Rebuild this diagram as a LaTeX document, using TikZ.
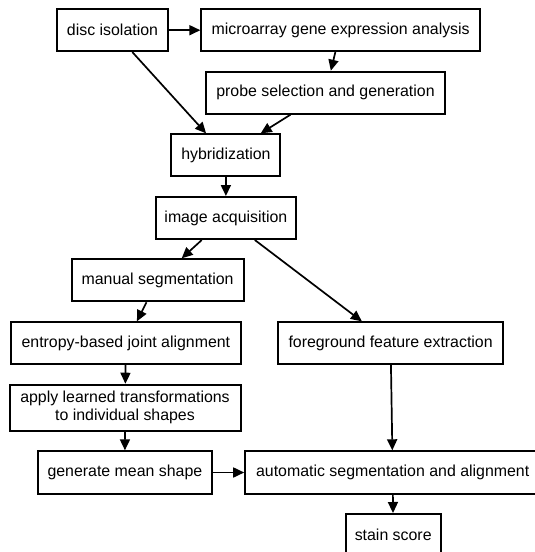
\documentclass[tikz,border=0pt]{standalone}
\usepackage{fontspec}
\setmainfont{Liberation Sans}
\usetikzlibrary{arrows.meta}
\begin{document}
\begin{tikzpicture}[x=1pt,y=-1pt,
  box/.style={draw=black, line width=2pt, inner sep=0pt, align=center,
    font=\fontsize{15.9}{18}\selectfont, minimum height=41.7pt},
  conn/.style={line width=1.7pt, -{Triangle[length=11pt,width=10pt]}}]
\useasboundingbox (0,0) rectangle (535,552);
\clip (0,0) rectangle (535,552);
\node[box, minimum width=111pt] (disc) at (112.5,30.2) {disc isolation};
\node[box, minimum width=278.7pt] (micro) at (340.7,30.2) {microarray gene expression analysis};
\node[box, minimum width=239pt, minimum height=42pt] (probe) at (325.5,92.7) {probe selection and generation};
\node[box, minimum width=109pt] (hybrid) at (225.9,155.2) {hybridization};
\node[box, minimum width=140.5pt, minimum height=42pt] (image) at (225.9,218) {image acquisition};
\node[box, minimum width=172pt, minimum height=42pt] (manual) at (157.6,280.3) {manual segmentation};
\node[box, minimum width=229.7pt] (entropy) at (125.9,343.2) {entropy-based joint alignment};
\node[box, minimum width=225pt] (fore) at (390.6,343.2) {foreground feature extraction};
\node[box, minimum width=231pt, minimum height=45.8pt] (apply) at (125,407.6) {apply learned transformations\\to individual shapes};
\node[box, minimum width=174.7pt, minimum height=42.4pt] (mean) at (124.9,472.5) {generate mean shape};
\node[box, minimum width=295pt, minimum height=42.4pt] (auto) at (392.7,472.5) {automatic segmentation and alignment};
\node[box, minimum width=95.3pt, minimum height=42pt] (stain) at (393.2,535) {stain score};
\draw[conn] (disc) -- (micro);
\draw[conn] (micro) -- (probe);
\draw[conn] (disc) -- (hybrid);
\draw[conn] (probe) -- (hybrid);
\draw[conn] (hybrid) -- (image);
\draw[conn] (image) -- (manual);
\draw[conn] (image) -- (fore);
\draw[conn] (manual) -- (entropy);
\draw[conn] (entropy) -- (apply);
\draw[conn] (apply) -- (mean);
\draw[conn] (mean) -- (auto);
\draw[conn] (fore) -- (auto);
\draw[conn] (auto) -- (stain);
\end{tikzpicture}
\end{document}
